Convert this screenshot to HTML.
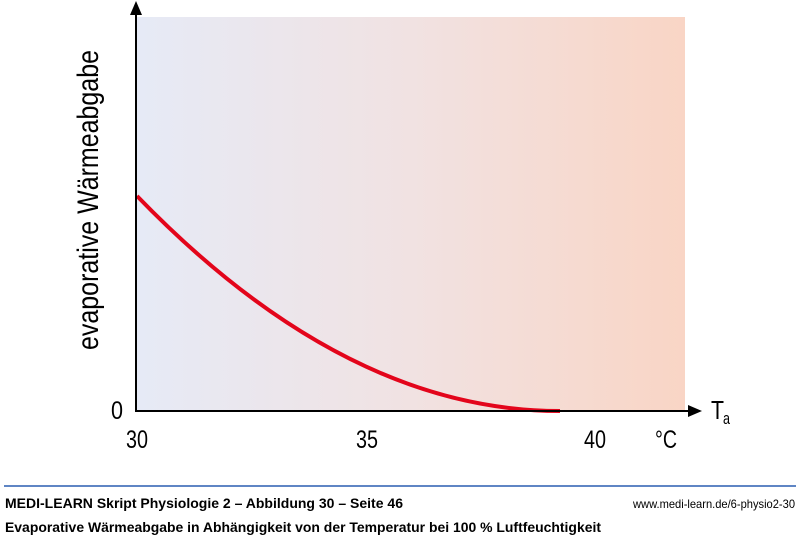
<!DOCTYPE html>
<html><head><meta charset="utf-8"><style>
html,body{margin:0;padding:0;background:#fff;}
body{width:800px;height:540px;position:relative;overflow:hidden;font-family:"Liberation Sans",sans-serif;}
</style></head><body>
<svg width="800" height="540" style="position:absolute;left:0;top:0">
<defs><linearGradient id="g" x1="0" x2="1" y1="0" y2="0">
<stop offset="0" stop-color="#e6eaf6"/><stop offset="0.5" stop-color="#f1e2e2"/><stop offset="1" stop-color="#f9d5c5"/></linearGradient></defs>
<rect x="137" y="17" width="548" height="394" fill="url(#g)"/>
<path d="M137,196 Q345,411 560,411" fill="none" stroke="#e3051b" stroke-width="4"/>
<line x1="136" y1="12" x2="136" y2="412" stroke="#000" stroke-width="2"/>
<polygon points="136,1 130,15 142,15" fill="#000"/>
<line x1="135" y1="411" x2="690" y2="411" stroke="#000" stroke-width="2"/>
<polygon points="702,411 688,405 688,417" fill="#000"/>
<line x1="4" y1="486" x2="796" y2="486" stroke="#2a5db0" stroke-width="1.5"/>
<g font-family="Liberation Sans, sans-serif" fill="#000">
<text x="0" y="0" font-size="30" transform="translate(98,200) rotate(-90)" text-anchor="middle" textLength="300" lengthAdjust="spacingAndGlyphs">evaporative Wärmeabgabe</text>
<text x="111" y="419" font-size="25" textLength="12" lengthAdjust="spacingAndGlyphs">0</text>
<text x="126" y="448" font-size="25" textLength="22" lengthAdjust="spacingAndGlyphs">30</text>
<text x="356" y="448" font-size="25" textLength="22" lengthAdjust="spacingAndGlyphs">35</text>
<text x="584" y="448" font-size="25" textLength="22" lengthAdjust="spacingAndGlyphs">40</text>
<text x="655" y="448" font-size="25" textLength="22" lengthAdjust="spacingAndGlyphs">°C</text>
<text x="711" y="419" font-size="26" textLength="13" lengthAdjust="spacingAndGlyphs">T</text>
<text x="723" y="424" font-size="17" textLength="7" lengthAdjust="spacingAndGlyphs">a</text>
<text x="5" y="508" font-size="14" font-weight="bold" textLength="398" lengthAdjust="spacingAndGlyphs">MEDI-LEARN Skript Physiologie 2 – Abbildung 30 – Seite 46</text>
<text x="633" y="508" font-size="12" textLength="162" lengthAdjust="spacingAndGlyphs">www.medi-learn.de/6-physio2-30</text>
<text x="5" y="532" font-size="14" font-weight="bold" textLength="596" lengthAdjust="spacingAndGlyphs">Evaporative Wärmeabgabe in Abhängigkeit von der Temperatur bei 100 % Luftfeuchtigkeit</text>
</g>
</svg>
</body></html>
